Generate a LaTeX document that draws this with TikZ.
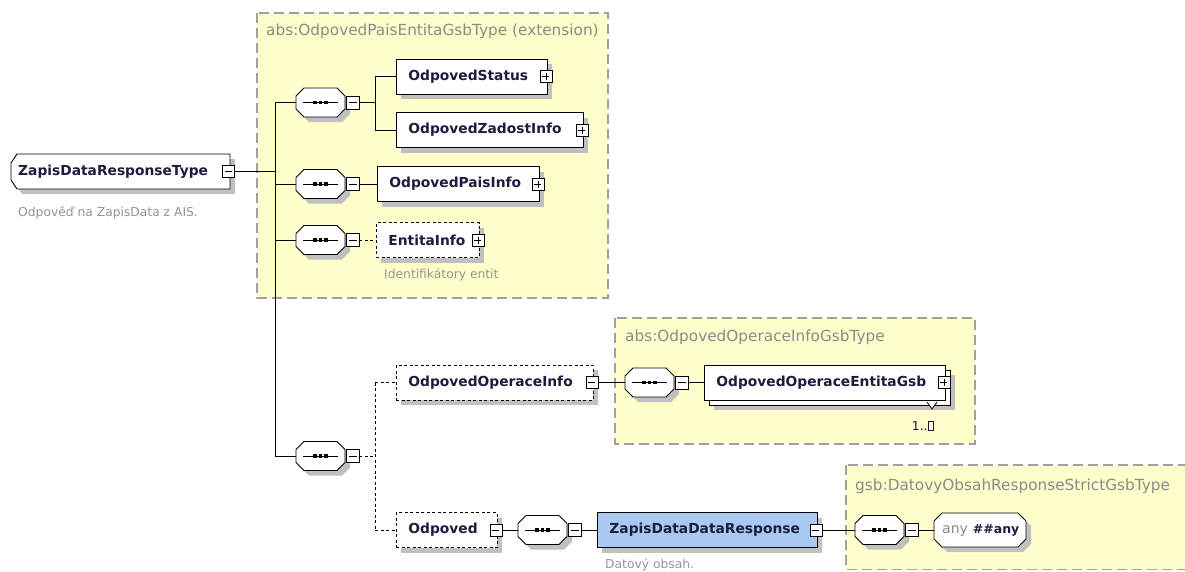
\documentclass[tikz,border=0pt]{standalone}
\usepackage{fontspec}
\setmainfont{DejaVu Sans}

\definecolor{typefill}{HTML}{FFFFCC}
\definecolor{typeborder}{HTML}{A0A0A0}
\definecolor{titlecol}{HTML}{8A8A8A}
\definecolor{notecol}{HTML}{959595}
\definecolor{shadowcol}{HTML}{C0C0C0}
\definecolor{namecol}{HTML}{1C1C40}
\definecolor{selfill}{HTML}{A9C9F0}
\definecolor{multcol}{HTML}{2A1030}

\newcommand\dgName{\fontsize{13.8}{16}\selectfont\bfseries}
\newcommand\dgTitle{\fontsize{15.3}{18}\selectfont}
\newcommand\dgNote{\fontsize{12.3}{14}\selectfont}

\tikzset{
  conn/.style={draw=black, line width=0.9pt},
  optconn/.style={conn, dash pattern=on 3pt off 2.5pt},
  typebox/.style={fill=typefill, draw=typeborder, line width=1.5pt, dash pattern=on 10pt off 5pt},
  typetitle/.style={anchor=west, inner sep=0pt, font=\dgTitle, text=titlecol},
  note/.style={anchor=west, inner sep=0pt, font=\dgNote, text=notecol},
  elembase/.style={draw=black, line width=0.9pt, fill=white, minimum height=35pt,
    inner xsep=12pt, inner ysep=0pt, anchor=west, font=\dgName, text=namecol, align=left},
  elem/.style={elembase, preaction={draw=none, fill=shadowcol, transform canvas={shift={(5pt,-5pt)}}}},
  optelem/.style={elem, dash pattern=on 3pt off 2.5pt},
  xbox/.style={draw=black, fill=white, line width=0.8pt, minimum size=12pt, inner sep=0pt},
  plusbox/.style={xbox, path picture={
      \draw[line width=0.8pt] ([xshift=2.5pt]path picture bounding box.west) -- ([xshift=-2.5pt]path picture bounding box.east)
        ([yshift=-2.5pt]path picture bounding box.north) -- ([yshift=2.5pt]path picture bounding box.south);}},
  minusbox/.style={xbox, path picture={
      \draw[line width=0.8pt] ([xshift=2.5pt]path picture bounding box.west) -- ([xshift=-2.5pt]path picture bounding box.east);}},
  % sequence compositor: origin at the left tip of the octagon
  seqpic/.pic={
    \fill[shadowcol] (5,-1.5) -- (13,-9.5) -- (46,-9.5) -- (54,-1.5) -- (54,11.5) -- (46,19.5) -- (13,19.5) -- (5,11.5) -- cycle;
    \draw[line width=0.9pt, fill=white] (0,-6.5) -- (8,-14.5) -- (41,-14.5) -- (49,-6.5) -- (49,6.5) -- (41,14.5) -- (8,14.5) -- (0,6.5) -- cycle;
    \draw[line width=0.9pt] (7,0) -- (42,0);
    \foreach \dx in {19,24.5,30} \fill (\dx-1.8,-1.8) rectangle (\dx+1.8,1.8);
    \node[minimum width=49pt, minimum height=29pt, inner sep=0pt] (-o) at (24.5,0) {};
    \node[minusbox, minimum size=13pt] (-m) at (56.5,0) {};
  }
}

\begin{document}
\begin{tikzpicture}[x=1pt, y=-1pt]
\clip (0,0) rectangle (1185,571);
\fill[white] (0,0) rectangle (1185,571);

% complex type containers
\draw[typebox] (257,13) rectangle (608,298);
\draw[typebox] (615,318) rectangle (975,444);
\draw[typebox] (846,465) rectangle (1190,569.5);
\node[typetitle] (t1) at (266,31) {abs:OdpovedPaisEntitaGsbType (extension)};
\node[typetitle] (t2) at (625,337) {abs:OdpovedOperaceInfoGsbType};
\node[typetitle] (t3) at (855,486) {gsb:DatovyObsahResponseStrictGsbType};

% root element
\fill[shadowcol] (22,159) -- (235,159) -- (235,194) -- (22,194) -- (16,185) -- (16,168) -- cycle;
\draw[line width=0.9pt, fill=white] (17,154) -- (230,154) -- (230,189) -- (17,189) -- (11,180) -- (11,163) -- cycle;
\node[anchor=west, minimum width=219pt, minimum height=35pt, inner xsep=7pt, inner ysep=0pt,
      text width=205pt, align=left, font=\dgName, text=namecol] (root) at (11,171.5) {ZapisDataResponseType};
\node[minusbox] (rootm) at (228,171) {};
\node[note] (rootn) at (18,213) {Odpověď na ZapisData z AIS.};

% compositors
\pic (s1) at (296,102.5) {seqpic};
\pic (s2) at (296,184) {seqpic};
\pic (s3) at (296,240) {seqpic};
\pic (s4) at (296,456) {seqpic};
\pic (s5) at (625,382.5) {seqpic};
\pic (s6) at (518,530) {seqpic};
\pic (s7) at (855,530) {seqpic};

% elements
\node[elem, minimum width=151pt, text width=127pt] (st) at (396,76.5) {OdpovedStatus};
\node[plusbox] (stp) at ([xshift=-2pt]st.east) {};
\node[elem, minimum width=187pt, text width=163pt] (zd) at (396,130) {OdpovedZadostInfo};
\node[plusbox] (zdp) at ([xshift=-2pt]zd.east) {};
\node[elem, minimum width=162pt, text width=138pt] (pi) at (377,184) {OdpovedPaisInfo};
\node[plusbox] (pip) at ([xshift=-2pt]pi.east) {};
\node[optelem, minimum width=103pt, text width=79pt] (ei) at (376,240) {EntitaInfo};
\node[plusbox] (eip) at ([xshift=-2pt]ei.east) {};
\node[note] (ein) at (384,275) {Identifikátory entit};

\node[optelem, minimum width=197pt, text width=173pt] (oi) at (396,382.5) {OdpovedOperaceInfo};
\node[minusbox] (oim) at ([xshift=-2pt]oi.east) {};

\node[elem, minimum width=241pt, text width=217pt] (oeb) at (709,387.5) {};
\node[elembase, minimum width=241pt, text width=217pt] (oe) at (704,382.5) {OdpovedOperaceEntitaGsb};
\node[plusbox] (oep) at ([xshift=-2pt]oe.east) {};
\draw[line width=0.8pt, fill=white] (927,402) -- (932,409) -- (937,402);
\node[anchor=center, inner sep=0pt, font=\dgNote, text=multcol] (mult) at (923,426)
  {1..\fboxsep=0pt\fboxrule=0.7pt\fbox{\rule{0pt}{8.5pt}\hspace{5pt}}};

\node[optelem, minimum width=101pt, text width=77pt] (od) at (396,530) {Odpoved};
\node[minusbox] (odm) at ([xshift=-2pt]od.east) {};

\node[elem, fill=selfill, minimum width=220pt, text width=196pt] (zr) at (597,530) {ZapisDataDataResponse};
\node[minusbox] (zrm) at ([xshift=-2pt]zr.east) {};
\node[note] (zrn) at (605,565) {Datový obsah.};

% wildcard
\fill[shadowcol] (947,518) -- (1023,518) -- (1031,526) -- (1031,544) -- (1023,552) -- (947,552) -- (939,544) -- (939,526) -- cycle;
\draw[line width=0.9pt, fill=white] (942,513) -- (1018,513) -- (1026,521) -- (1026,539) -- (1018,547) -- (942,547) -- (934,539) -- (934,521) -- cycle;
\node[anchor=west, inner xsep=8pt, inner ysep=0pt, minimum height=34pt] (anyw) at (934,530)
  {{\fontsize{14}{16}\selectfont\color{titlecol}any}\hspace{5pt}{\fontsize{12.5}{14}\selectfont\bfseries\color{namecol}\#\#any}};

% connectors
\coordinate (bus) at (275,171);
\draw[conn] (rootm.east) -- (bus |- rootm.east);
\draw[conn] (bus |- s1-o.west) -- (bus |- s4-o.west);
\foreach \s in {s1,s2,s3,s4} \draw[conn] (bus |- \s-o.west) -- (\s-o.west);

\coordinate (j1) at (375,102.5);
\draw[conn] (s1-m.east) -- (j1 |- s1-m.east);
\draw[conn] (j1 |- st.west) -- (j1 |- zd.west);
\draw[conn] (j1 |- st.west) -- (st.west);
\draw[conn] (j1 |- zd.west) -- (zd.west);
\draw[conn] (s2-m.east) -- (pi.west);
\draw[optconn] (s3-m.east) -- (ei.west);

\coordinate (j4) at (375,456);
\draw[optconn] (s4-m.east) -- (j4 |- s4-m.east);
\draw[optconn] (j4 |- oi.west) -- (j4 |- od.west);
\draw[optconn] (j4 |- oi.west) -- (oi.west);
\draw[optconn] (j4 |- od.west) -- (od.west);

\draw[conn] (oim.east) -- (s5-o.west);
\draw[conn] (s5-m.east) -- (oe.west);
\draw[conn] (odm.east) -- (s6-o.west);
\draw[conn] (s6-m.east) -- (zr.west);
\draw[conn] (zrm.east) -- (s7-o.west);
\draw[conn] (s7-m.east) -- (anyw.west);
\end{tikzpicture}
\end{document}
